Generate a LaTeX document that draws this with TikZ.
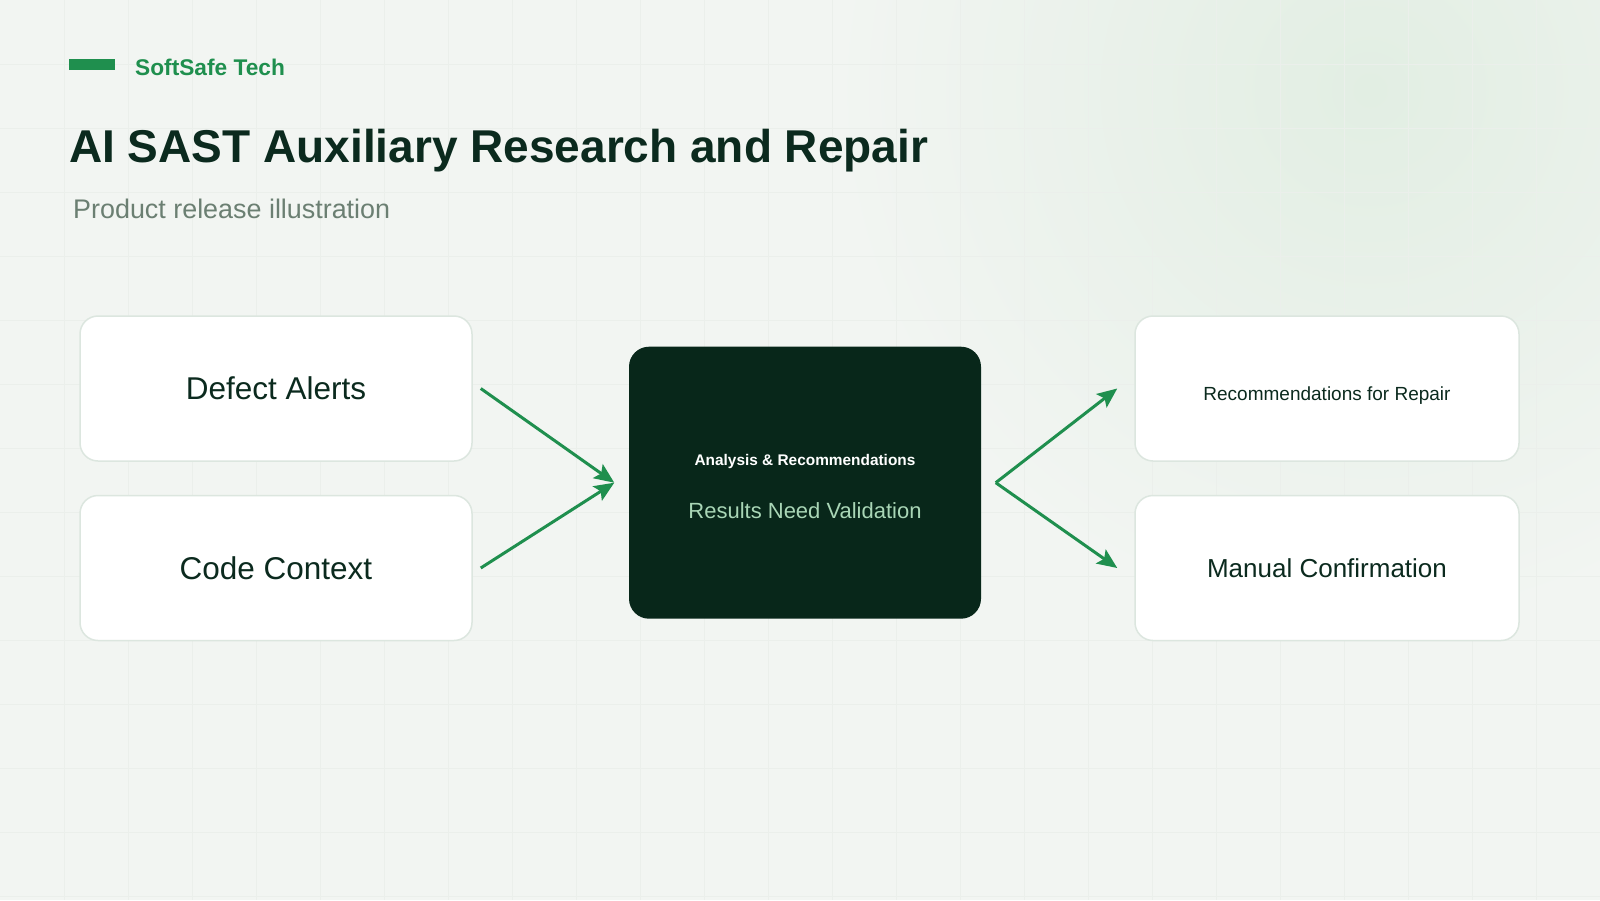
\documentclass[tikz,border=0pt]{standalone}
\usepackage{fontspec}
\setmainfont{Liberation Sans}
\usetikzlibrary{positioning,arrows.meta}
\definecolor{bg}{HTML}{F2F5F2}
\definecolor{glow}{HTML}{E2EEE3}
\definecolor{gridc}{HTML}{EBEFEB}
\definecolor{brand}{HTML}{1F8F4E}
\definecolor{ink}{HTML}{0B2A1E}
\definecolor{muted}{HTML}{6B7F72}
\definecolor{edge}{HTML}{DCE6DF}
\definecolor{core}{HTML}{08271A}
\definecolor{mint}{HTML}{A9D6B6}

\begin{document}
\begin{tikzpicture}[x=1pt, y=-1pt, node distance=33pt, >={Stealth[length=20pt, width=17pt, inset=4pt]}]
    \tikzstyle{box}=[draw=edge, line width=1.5pt, fill=white, rounded corners=18pt, minimum width=392pt, minimum height=145pt, align=center, text=ink, font=\fontsize{31.5}{36}\selectfont]
    \tikzstyle{flow}=[draw=brand, line width=3pt]
    \useasboundingbox (0,0) rectangle (1600,900);
    % background
    \fill[bg] (0,0) rectangle (1600,900);
    \shade[inner color=glow, outer color=bg] (1370,90) circle[radius=540pt];
    \foreach \g in {64,128,...,1600} \draw[gridc, line width=0.6pt] (\g,0) -- (\g,900);
    \foreach \g in {64,128,...,896} \draw[gridc, line width=0.6pt] (0,\g) -- (1600,\g);
    % header
    \fill[brand] (69,59) rectangle (115,70);
    \node[anchor=base west, inner sep=0, text=brand, font=\fontsize{22.7}{26}\selectfont\bfseries] (brandname) at (135,75) {SoftSafe Tech};
    \node[anchor=base west, inner sep=0, text=ink, font=\fontsize{46}{54}\selectfont\bfseries] (title) at (69,162) {AI SAST Auxiliary Research and Repair};
    \node[anchor=base west, inner sep=0, text=muted, font=\fontsize{26.9}{32}\selectfont] (subtitle) at (73,218) {Product release illustration};
    % boxes
    \node[box] (alerts) at (276,388.5) {Defect Alerts};
    \node[box, below=of alerts] (context) {Code Context};
    \node[box, draw=none, fill=core, rounded corners=20pt, minimum width=352pt, minimum height=272pt] (ai) at (805,482.7) {};
    \node[text=white, font=\fontsize{15.4}{18}\selectfont\bfseries] (aihead) at (805,462) {Analysis \& Recommendations};
    \node[text=mint, font=\fontsize{22}{26}\selectfont] (aisub) at (805,511) {Results Need Validation};
    \node[box, minimum width=384pt, font=\fontsize{19}{23}\selectfont, text height=27pt, text depth=4pt] (repair) at (1327,388.5) {Recommendations for Repair};
    \node[box, minimum width=384pt, font=\fontsize{26}{31}\selectfont, below=of repair] (manual) {Manual Confirmation};
    % arrows
    \draw[flow, ->] ([xshift=8pt]alerts.east) -- ([xshift=-14pt]ai.west);
    \draw[flow, ->] ([xshift=8pt]context.east) -- ([xshift=-14pt]ai.west);
    \draw[flow, ->] ([xshift=14pt]ai.east) -- ([xshift=-17pt]repair.west);
    \draw[flow, ->] ([xshift=14pt]ai.east) -- ([xshift=-17pt]manual.west);
  \end{tikzpicture}
\end{document}
